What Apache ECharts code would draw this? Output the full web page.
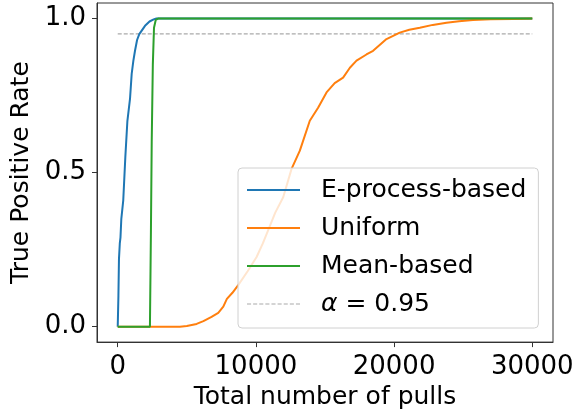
<!DOCTYPE html>
<html>
<head>
<meta charset="utf-8">
<script src="https://cdn.jsdelivr.net/npm/echarts@6/dist/echarts.min.js"></script>
<style>
  html, body { margin: 0; padding: 0; background: #fff; }
  #chart { width: 587px; height: 415px; }
</style>
</head>
<body>
<div id="chart"></div>
<script>
// data
var eProcess = [
  [0, 0], [50, 0.1], [90, 0.22], [150, 0.27], [200, 0.29], [260, 0.35],
  [400, 0.41], [550, 0.55], [700, 0.668], [890, 0.74], [1010, 0.82],
  [1130, 0.862], [1250, 0.895], [1400, 0.93], [1560, 0.949], [1975, 0.976],
  [2300, 0.99], [2600, 0.997], [2800, 1], [30000, 1]
];
var uniform = [
  [0, 0], [4500, 0], [5000, 0.002], [5710, 0.009], [6200, 0.018], [6790, 0.032],
  [7275, 0.045], [7640, 0.065], [7900, 0.09], [8300, 0.11], [8720, 0.135],
  [9400, 0.18], [10050, 0.226], [10500, 0.27], [10890, 0.313], [11400, 0.37],
  [11975, 0.42], [12580, 0.512], [13180, 0.571], [13900, 0.668], [14500, 0.71],
  [15110, 0.76], [15700, 0.79], [16310, 0.808], [16800, 0.84], [17280, 0.863],
  [18000, 0.883], [18480, 0.895], [19450, 0.933], [20410, 0.954], [21100, 0.963],
  [21860, 0.97], [22800, 0.979], [23790, 0.986], [24700, 0.991], [25710, 0.995],
  [27000, 0.997], [28600, 0.998], [30000, 1]
];
var meanBased = [
  [0, 0], [2330, 0], [2400, 0.3], [2460, 0.6], [2540, 0.85], [2625, 0.97],
  [2750, 0.995], [2950, 1], [30000, 1]
];
var alphaLine = [[0, 0.95], [30000, 0.95]];
var xTicks = [0, 10000, 20000, 30000];
var yTicks = [0, 0.5, 1];

var font = 'DejaVu Sans';
var fs = 25;
var chart = echarts.init(document.getElementById('chart'));

// legend sample for the dashed line
var dashIcon = 'path://M0,0h4v1h-4z M6,0h4v1h-4z M12,0h4v1h-4z M18,0h4v1h-4z M24,0h4v1h-4z ' +
  'M30,0h4v1h-4z M36,0h4v1h-4z M42,0h4v1h-4z M48,0h4v1h-4z';

function lineSeries(name, data, color) {
  return {
    name: name,
    type: 'line',
    data: data,
    symbol: 'none',
    showSymbol: false,
    lineStyle: { color: color, width: 2 },
    itemStyle: { color: color }
  };
}

chart.setOption({
  animation: false,
  grid: {
    left: 97, right: 34, top: 3, bottom: 72,
    show: true, borderColor: '#333', borderWidth: 1
  },
  legend: {
    orient: 'vertical',
    left: 238, top: 168,
    padding: [7, 12, 9, 9],
    itemWidth: 53, itemHeight: 2,
    itemGap: 8,
    backgroundColor: 'rgba(255,255,255,0.8)',
    borderColor: '#d0d0d0', borderWidth: 1, borderRadius: 4,
    textStyle: {
      fontFamily: font, fontSize: fs, color: '#000', lineHeight: 30,
      padding: [0, 0, 0, 16],
      rich: {
        a: { fontFamily: font, fontSize: fs, fontStyle: 'italic', color: '#000' },
        b: { fontFamily: font, fontSize: fs, color: '#000' }
      }
    },
    formatter: function (name) {
      if (name === 'alpha') return '{a|α}{b| = 0.95}';
      return name;
    },
    data: [
      { name: 'E-process-based', icon: 'rect' },
      { name: 'Uniform', icon: 'rect' },
      { name: 'Mean-based', icon: 'rect' },
      { name: 'alpha', icon: dashIcon }
    ]
  },
  xAxis: {
    type: 'value',
    min: -1500, max: 31500,
    name: 'Total number of pulls',
    nameLocation: 'middle',
    nameGap: 42,
    nameTextStyle: { fontFamily: font, fontSize: fs, color: '#000' },
    axisLine: { show: true, onZero: false, lineStyle: { color: '#333' } },
    axisTick: { show: true, length: 5, customValues: xTicks, lineStyle: { color: '#333' } },
    axisLabel: {
      customValues: xTicks, margin: 12,
      fontFamily: font, fontSize: 26, color: '#000',
      formatter: function (v) { return String(v); }
    },
    splitLine: { show: false }
  },
  yAxis: {
    type: 'value',
    min: -0.05, max: 1.05,
    name: 'True Positive Rate',
    nameLocation: 'middle',
    nameGap: 55,
    nameTextStyle: { fontFamily: font, fontSize: fs, color: '#000' },
    axisLine: { show: true, onZero: false, lineStyle: { color: '#333' } },
    axisTick: { show: true, length: 5, customValues: yTicks, lineStyle: { color: '#333' } },
    axisLabel: {
      customValues: yTicks, margin: 11,
      fontFamily: font, fontSize: 26, color: '#000',
      formatter: function (v) { return v.toFixed(1); }
    },
    splitLine: { show: false }
  },
  series: [
    lineSeries('E-process-based', eProcess, '#1f77b4'),
    lineSeries('Uniform', uniform, '#ff7f0e'),
    lineSeries('Mean-based', meanBased, '#2ca02c'),
    {
      name: 'alpha',
      type: 'line',
      data: alphaLine,
      symbol: 'none',
      showSymbol: false,
      lineStyle: { color: '#aaaaaa', width: 1.3, type: [4, 2] },
      itemStyle: { color: '#aaaaaa' },
      z: 1
    }
  ]
});
</script>
</body>
</html>
